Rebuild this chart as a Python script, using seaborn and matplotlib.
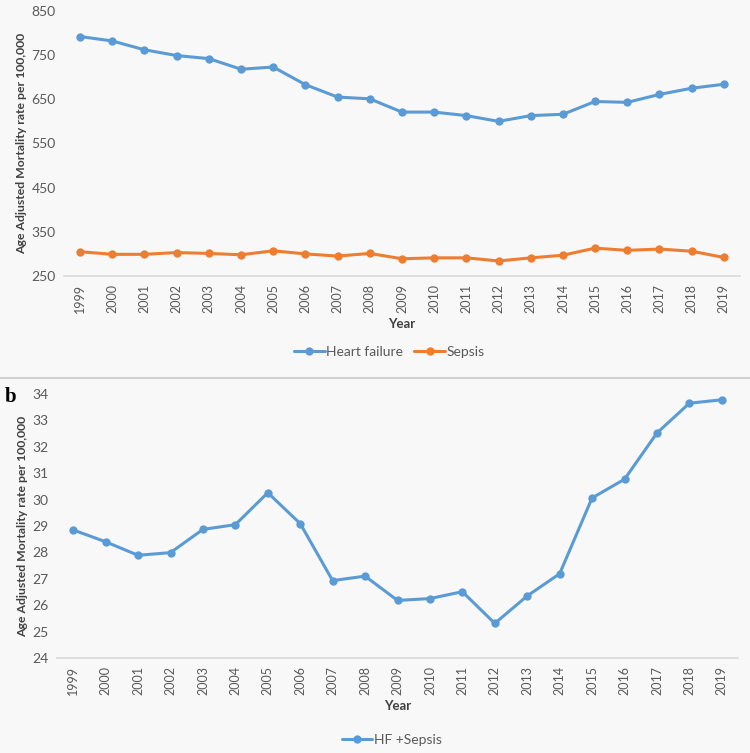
import numpy as np
import pandas as pd
import matplotlib
matplotlib.use("Agg")
import matplotlib.pyplot as plt
import seaborn as sns
from matplotlib.lines import Line2D

# Data
years = list(range(1999, 2020))
heart_failure = [792, 782, 762, 749, 742, 718, 723, 683, 655, 651, 621,
                 621, 613, 600, 613, 616, 645, 643, 661, 675, 684]
sepsis = [305, 299, 299, 303, 301, 298, 307, 300, 295, 301, 289,
          291, 291, 284, 291, 297, 313, 308, 311, 306, 292]
hf_sepsis = [28.85, 28.40, 27.89, 27.99, 28.87, 29.05, 30.26, 29.09, 26.93, 27.10, 26.18,
             26.25, 26.51, 25.31, 26.35, 27.19, 30.06, 30.77, 32.52, 33.65, 33.78]

BLUE = "#5B9BD5"
ORANGE = "#ED7D31"
GRAY_TXT = "#595959"
BG = "#F8F8F8"

sns.set_theme(style="white")
plt.rcParams['font.family'] = ['Lato', 'DejaVu Sans']

fig = plt.figure(figsize=(7.5, 7.53), dpi=100)
fig.patch.set_facecolor(BG)

ax1 = fig.add_axes([0.0853, 0.6335, 0.9013, 0.352])
ax2 = fig.add_axes([0.076, 0.1262, 0.908, 0.3506])

top_df = pd.DataFrame({"Year": years * 2,
                       "Rate": heart_failure + sepsis,
                       "Series": ["Heart failure"] * len(years) + ["Sepsis"] * len(years)})
bot_df = pd.DataFrame({"Year": years, "Rate": hf_sepsis})

sns.lineplot(data=top_df, x="Year", y="Rate", hue="Series",
             palette={"Heart failure": BLUE, "Sepsis": ORANGE},
             marker="o", markersize=6, markeredgewidth=0, linewidth=2.2,
             legend=False, ax=ax1)
sns.lineplot(data=bot_df, x="Year", y="Rate", color=BLUE,
             marker="o", markersize=6, markeredgewidth=0, linewidth=2.2,
             legend=False, ax=ax2)


def style_axis(ax, ylim, yticks):
    ax.set_facecolor(BG)
    ax.set_xlim(1998.5, 2019.5)
    ax.set_ylim(*ylim)
    ax.set_yticks(yticks)
    ax.set_xticks(years)
    ax.set_xticklabels([str(y) for y in years], rotation=90, fontsize=9, color=GRAY_TXT)
    ax.tick_params(axis="y", labelsize=10, labelcolor=GRAY_TXT, length=0, pad=6)
    ax.tick_params(axis="x", length=0, pad=6)
    for s in ["top", "right", "left"]:
        ax.spines[s].set_visible(False)
    ax.spines["bottom"].set_color("#D9D9D9")
    ax.spines["bottom"].set_linewidth(1.2)
    ax.set_xlabel("Year", fontsize=9.5, fontweight="bold", color="#404040", labelpad=3)
    ax.set_ylabel("Age Adjusted Mortality rate per 100,000", fontsize=8.8,
                  fontweight="bold", color="#404040", labelpad=3)
    ax.grid(False)


style_axis(ax1, (250, 850), [250, 350, 450, 550, 650, 750, 850])
style_axis(ax2, (24, 34), list(range(24, 35)))

h1 = Line2D([], [], color=BLUE, marker="o", markersize=6, markeredgewidth=0, linewidth=2.2)
h2 = Line2D([], [], color=ORANGE, marker="o", markersize=6, markeredgewidth=0, linewidth=2.2)
fig.legend([h1, h2], ["Heart failure", "Sepsis"], loc="center", bbox_to_anchor=(0.519, 0.5325),
           ncol=2, frameon=False, fontsize=10, labelcolor=GRAY_TXT,
           handlelength=2.2, handletextpad=0.1, columnspacing=0.8)
fig.legend([h1], ["HF +Sepsis"], loc="center", bbox_to_anchor=(0.522, 0.0173),
           frameon=False, fontsize=10, labelcolor=GRAY_TXT,
           handlelength=2.2, handletextpad=0.1)

# separator between the panels and panel letter
fig.add_artist(Line2D([0, 1], [1 - 378 / 753, 1 - 378 / 753], color="#D0D0D0", linewidth=1.5,
                      transform=fig.transFigure))
fig.text(0.006, 1 - 397 / 753, "b", fontsize=15, fontweight="bold",
         family=["Liberation Serif"], va="center", ha="left", color="black")

fig.savefig("out.png", dpi=100, facecolor=fig.get_facecolor())
